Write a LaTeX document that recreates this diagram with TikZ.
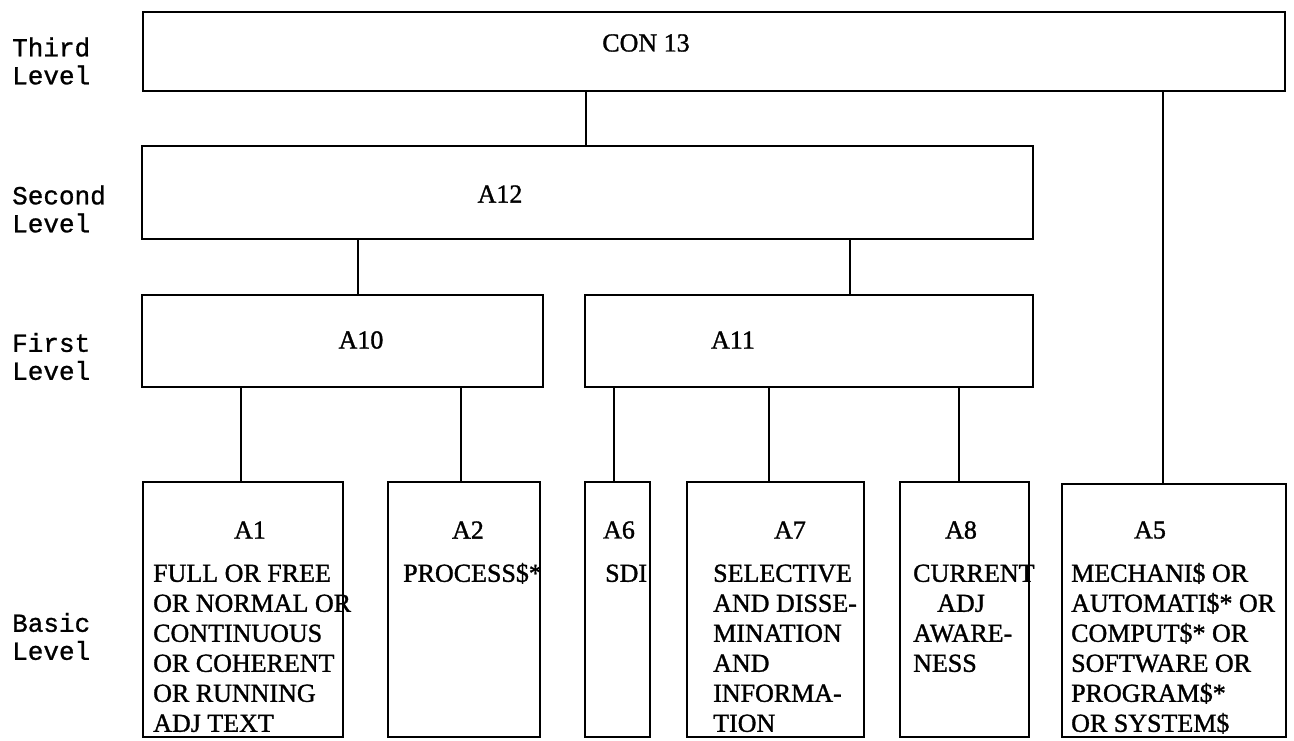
\documentclass[tikz,border=0pt]{standalone}
\usepackage{fontspec}
\setmainfont{Liberation Serif}
\newfontfamily\boxfont[FakeBold=1.2]{Liberation Serif}
\newfontfamily\typew[FakeBold=1]{Liberation Mono}
\begin{document}
\begin{tikzpicture}[x=1pt,y=-1pt,
  box/.style={draw, line width=2.8pt, inner sep=0pt, outer sep=0pt},
  conn/.style={line width=2.2pt},
  lbl/.style={font=\boxfont\fontsize{26}{30}\selectfont, inner sep=0pt},
  body/.style={font=\boxfont\fontsize{26}{30}\selectfont, inner sep=0pt, anchor=north west, align=left},
  side/.style={font=\typew\fontsize{26}{28}\selectfont, inner sep=0pt, anchor=west, align=left}]
\useasboundingbox (0,0) rectangle (1294,740);

% side labels
\node[side] (l3) at (12,61) {Third\\Level};
\node[side] (l2) at (12,209) {Second\\Level};
\node[side] (l1) at (12,356.5) {First\\Level};
\node[side] (l0) at (12,636.5) {Basic\\Level};

% boxes
\node[box, minimum width=1142pt, minimum height=79pt] (con) at (714,51.5) {};
\node[box, minimum width=891pt, minimum height=93pt] (a12) at (587.5,192.5) {};
\node[box, minimum width=401pt, minimum height=92pt] (a10) at (342.5,341) {};
\node[box, minimum width=448pt, minimum height=92pt] (a11) at (809,341) {};
\node[box, minimum width=200pt, minimum height=255pt] (a1) at (243,609.5) {};
\node[box, minimum width=152pt, minimum height=255pt] (a2) at (464,609.5) {};
\node[box, minimum width=65pt, minimum height=255pt] (a6) at (617.5,609.5) {};
\node[box, minimum width=177pt, minimum height=255pt] (a7) at (775.5,609.5) {};
\node[box, minimum width=129pt, minimum height=255pt] (a8) at (964.5,609.5) {};
\node[box, minimum width=224pt, minimum height=253pt] (a5) at (1174,610.5) {};

% box titles
\node[lbl] (tcon) at (646,43) {CON 13};
\node[lbl] (ta12) at (500,194) {A12};
\node[lbl] (ta10) at (361,340) {A10};
\node[lbl] (ta11) at (733,340) {A11};
\node[lbl] (ta1) at (250,530) {A1};
\node[lbl] (ta2) at (468,530) {A2};
\node[lbl] (ta6) at (619,530) {A6};
\node[lbl] (ta7) at (790,530) {A7};
\node[lbl] (ta8) at (961,530) {A8};
\node[lbl] (ta5) at (1150,530) {A5};

% box bodies
\node[body] (b1) at (153,561.6) {\rule{0pt}{20pt}FULL OR FREE\\OR NORMAL OR\\CONTINUOUS\\OR COHERENT\\OR RUNNING\\ADJ TEXT};
\node[body] (b2) at (403,561.6) {\rule{0pt}{20pt}PROCESS\$*};
\node[body] (b6) at (605,561.6) {\rule{0pt}{20pt}SDI};
\node[body] (b7) at (713,561.6) {\rule{0pt}{20pt}SELECTIVE\\AND DISSE-\\MINATION\\AND\\INFORMA-\\TION};
\node[body] (b8) at (913,561.6) {\rule{0pt}{20pt}CURRENT\\\hspace*{24pt}ADJ\\AWARE-\\NESS};
\node[body] (b5) at (1071,561.6) {\rule{0pt}{20pt}MECHANI\$ OR\\AUTOMATI\$* OR\\COMPUT\$* OR\\SOFTWARE OR\\PROGRAM\$*\\OR SYSTEM\$};

% connector positions
\coordinate (x1) at (586,0);
\coordinate (x2) at (1163,0);
\coordinate (x3) at (358,0);
\coordinate (x4) at (850,0);
\coordinate (x5) at (241,0);
\coordinate (x6) at (461,0);
\coordinate (x7) at (614,0);
\coordinate (x8) at (769,0);
\coordinate (x9) at (959,0);

\draw[conn] (con.south -| x1) -- (a12.north -| x1);
\draw[conn] (con.south -| x2) -- (a5.north -| x2);
\draw[conn] (a12.south -| x3) -- (a10.north -| x3);
\draw[conn] (a12.south -| x4) -- (a11.north -| x4);
\draw[conn] (a10.south -| x5) -- (a1.north -| x5);
\draw[conn] (a10.south -| x6) -- (a2.north -| x6);
\draw[conn] (a11.south -| x7) -- (a6.north -| x7);
\draw[conn] (a11.south -| x8) -- (a7.north -| x8);
\draw[conn] (a11.south -| x9) -- (a8.north -| x9);
\end{tikzpicture}
\end{document}
